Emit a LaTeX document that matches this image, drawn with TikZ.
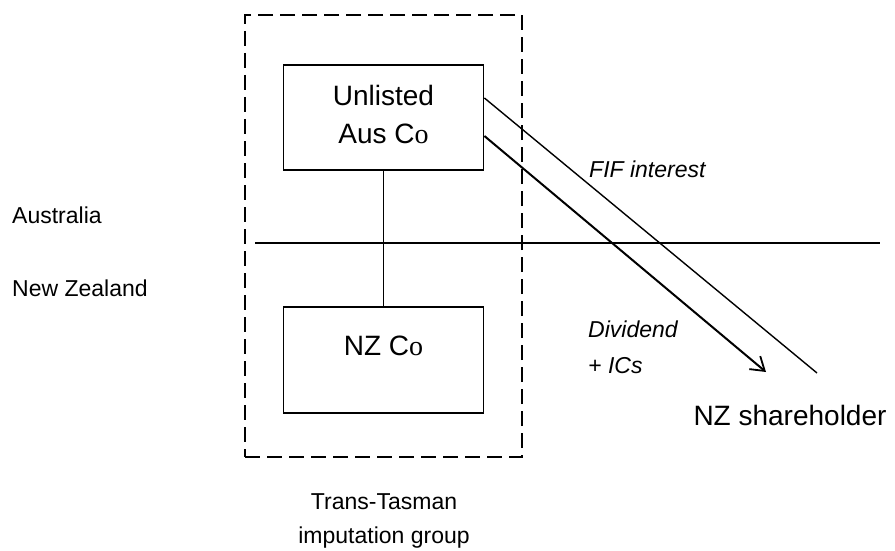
\documentclass[tikz,border=0pt]{standalone}
\usepackage{fontspec}
\setmainfont{Liberation Sans}
\newfontfamily\serifo{Liberation Serif}
\usetikzlibrary{arrows.meta,calc}
\tikzset{
  company/.style={draw, line width=1.8pt, inner sep=0pt, minimum width=200pt, align=center, font=\fontsize{28}{38}\selectfont},
  groupbox/.style={draw, line width=1.6pt, dash pattern=on 15pt off 7pt, minimum width=277pt, minimum height=442pt, inner sep=0pt},
  plainline/.style={line width=1.4pt},
  arrowline/.style={line width=2pt, -{Straight Barb[length=13pt,width=17pt,line width=1.8pt]}},
  small/.style={inner sep=0pt, font=\fontsize{23}{27}\selectfont},
  smallit/.style={inner sep=0pt, font=\fontsize{23}{27}\selectfont\itshape},
  big/.style={inner sep=0pt, font=\fontsize{28}{34}\selectfont}
}
\begin{document}
\begin{tikzpicture}[x=1pt,y=-1pt]
\useasboundingbox (0,0) rectangle (895,551);
% group
\node[groupbox] (grp) at (383.5,236) {};
% companies
\node[company, text height=78pt, text depth=27pt] (au) at (383.5,117.5) {Unlisted\\Aus C{\serifo o}};
\node[company, text height=48pt, text depth=58pt] (nz) at (383.5,360) {NZ C{\serifo o}};
\draw[plainline] (au.south) -- (nz.north);
% border
\coordinate (bl) at (255,243);
\coordinate (br) at (880,243);
\draw[line width=1.6pt] (bl) -- (br);
% flows
\coordinate (fifend) at (817,373);
\coordinate (divtip) at (766,372);
\draw[plainline] ([yshift=19.5pt]au.east) -- (fifend);
\draw[arrowline] ([yshift=-18.5pt]au.east) -- (divtip);
% labels
\node[small, anchor=base west] (aus) at (12,223.5) {Australia};
\node[small, anchor=base west] (nzl) at (12,296.5) {New Zealand};
\node[smallit, anchor=base west] (fif) at (589,177) {FIF interest};
\node[smallit, anchor=base west] (div) at (588,337) {Dividend};
\node[smallit, anchor=base west] (ics) at (588,373) {+ ICs};
\node[big, anchor=base] (sh) at (790,425) {NZ shareholder};
\node[small, anchor=base] (tt) at (384,509) {Trans-Tasman};
\node[small, anchor=base] (ig) at (384,543) {imputation group};
\end{tikzpicture}
\end{document}
